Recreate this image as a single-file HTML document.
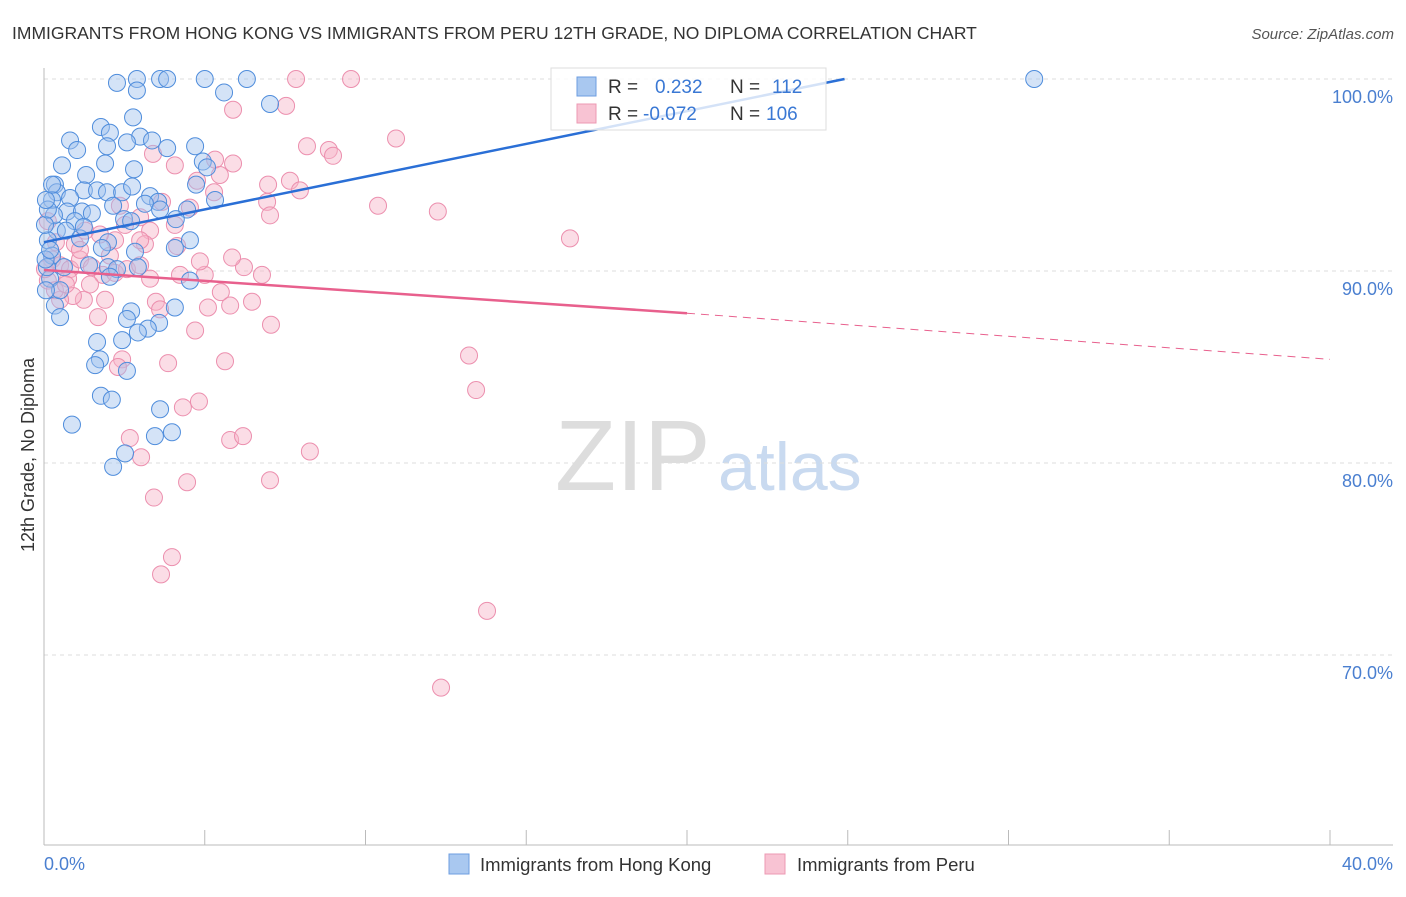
<!DOCTYPE html>
<html><head><meta charset="utf-8">
<style>
body{margin:0;background:#fff;font-family:"Liberation Sans",sans-serif;}
svg text{font-family:"Liberation Sans",sans-serif;}
</style></head>
<body>
<svg width="1406" height="892" viewBox="0 0 1406 892" xmlns="http://www.w3.org/2000/svg">
<text x="12" y="39" font-size="17.5" fill="#333">IMMIGRANTS FROM HONG KONG VS IMMIGRANTS FROM PERU 12TH GRADE, NO DIPLOMA CORRELATION CHART</text>
<text x="1394" y="39" font-size="15" fill="#555" font-style="italic" text-anchor="end">Source: ZipAtlas.com</text>
<text transform="translate(34,455) rotate(-90)" font-size="18" fill="#333" text-anchor="middle">12th Grade, No Diploma</text>
<g>
<text x="555" y="490" font-size="100" font-family="Liberation Serif" fill="#ddd">ZIP</text>
<text x="718" y="490" font-size="68" fill="#c9daf0">atlas</text>
</g>
<g id="grid"></g>
<g id="axes"></g>
<g id="marks"></g>
<g id="trend"></g>
<g>
<rect x="551" y="68" width="275" height="62" fill="#fff" fill-opacity="0.8" stroke="#ddd"/>
<rect x="577" y="77" width="19" height="19" fill="#a9c8f0" stroke="#6d9ee0"/>
<rect x="577" y="104" width="19" height="19" fill="#f8c3d3" stroke="#ec9ab3"/>
<text x="608" y="93" font-size="19" fill="#333">R =</text><text x="655" y="93" font-size="19" fill="#3a78d4">0.232</text>
<text x="730" y="93" font-size="19" fill="#333">N =</text><text x="772" y="93" font-size="19" fill="#3a78d4">112</text>
<text x="608" y="120" font-size="19" fill="#333">R =</text><text x="643" y="120" font-size="19" fill="#3a78d4">-0.072</text>
<text x="730" y="120" font-size="19" fill="#333">N =</text><text x="766" y="120" font-size="19" fill="#3a78d4">106</text>
</g>
<g>
<rect x="449" y="854" width="20" height="20" fill="#a9c8f0" stroke="#6d9ee0"/>
<text x="480" y="871" font-size="18.5" fill="#333">Immigrants from Hong Kong</text>
<rect x="765" y="854" width="20" height="20" fill="#f8c3d3" stroke="#ec9ab3"/>
<text x="797" y="871" font-size="18.5" fill="#333">Immigrants from Peru</text>
</g>
</svg>
<script>
const yTicks=[100,90,80,70];
const yTickLabels=["100.0%","90.0%","80.0%","70.0%"];
const xTicks=[0,5,10,15,20,25,30,35,40];
const hkX=[2.27,2.89,3.61,3.83,5.0,6.31,2.89,5.6,30.8,7.03,2.77,1.77,2.05,0.81,2.99,3.36,1.03,1.96,2.58,3.83,4.7,0.56,1.9,4.94,5.07,2.8,0.34,1.31,4.73,0.4,1.24,1.65,1.96,2.43,2.74,3.3,3.55,4.45,4.1,0.25,0.81,2.15,3.14,3.61,5.32,0.72,1.18,1.49,2.49,2.71,0.96,0.4,0.68,0.31,0.12,1.12,1.99,1.8,4.54,4.07,2.83,2.92,1.4,0.62,0.25,1.99,2.27,0.19,0.09,0.34,0.5,2.71,2.58,3.58,3.23,4.07,4.54,2.92,2.43,1.65,1.74,1.59,2.58,1.77,2.11,3.61,0.87,3.98,3.45,2.52,2.15,0.5,0.06,0.05,0.19,0.03,2.05,0.12,0.06,0.25,1.24];
const hkY=[99.8,100,100,100,100,100,99.4,99.3,100,98.7,98.0,97.5,97.2,96.8,97.0,96.8,96.3,96.5,96.7,96.4,96.5,95.5,95.6,95.7,95.4,95.3,94.5,95.0,94.5,94.1,94.2,94.2,94.1,94.1,94.4,93.9,93.6,93.2,92.7,93.7,93.8,93.4,93.5,93.2,93.7,93.1,93.1,93.0,92.7,92.6,92.6,92.1,92.1,92.9,91.6,91.7,91.5,91.2,91.6,91.2,91.0,90.2,90.3,90.2,90.8,90.2,90.1,89.6,90.2,88.2,87.6,87.9,87.5,87.3,87.0,88.1,89.5,86.8,86.4,86.3,85.4,85.1,84.8,83.5,83.3,82.8,82.0,81.6,81.4,80.5,79.8,89.0,89.0,90.6,91.1,92.4,89.7,93.2,93.7,94.5,92.3];
const peX=[7.84,9.55,5.88,7.53,10.95,8.18,8.86,8.99,12.25,16.36,3.39,4.07,4.76,5.32,5.88,6.97,7.65,7.96,6.94,7.03,10.39,3.67,4.54,4.07,5.29,5.47,2.36,2.52,2.99,3.3,4.14,3.14,2.21,1.74,1.28,0.96,0.37,0.12,0.25,0.5,0.81,1.12,1.49,1.83,2.21,2.58,2.99,3.3,4.23,5.0,6.22,6.78,5.85,4.85,5.5,6.47,5.1,3.48,3.61,4.7,7.06,5.79,1.24,1.68,0.9,0.75,0.5,0.12,0.03,2.43,2.3,3.86,5.63,13.22,13.44,4.32,4.82,2.67,5.79,6.19,3.02,8.27,3.42,4.45,7.03,3.98,3.64,13.78,12.35,1.43,0.34,2.99,1.9,0.68,1.12,2.05];
const peY=[100,100,98.4,98.6,96.9,96.5,96.3,96.0,93.1,91.7,96.1,95.5,94.7,95.8,95.6,94.5,94.7,94.2,93.6,92.9,93.4,93.6,93.3,92.4,94.1,95.0,93.4,92.4,92.8,92.1,91.3,91.4,91.6,91.9,92.1,91.4,91.5,92.6,90.6,90.3,90.1,90.6,90.2,89.8,89.9,90.1,90.3,89.6,89.8,89.8,90.2,89.8,90.7,90.5,88.9,88.4,88.1,88.4,88.0,86.9,87.2,88.2,88.5,87.6,88.7,89.6,88.5,89.5,90.1,85.4,85.0,85.2,85.3,85.6,83.8,82.9,83.2,81.3,81.2,81.4,80.3,80.6,78.2,79.0,79.1,75.1,74.2,72.3,68.3,89.3,89.0,91.6,88.5,89.3,91.1,90.8];
const hkTrend=[0,91.5,24.9,100];
const peTrend=[0,90.05,20,87.8,40,85.4];
const NS="http://www.w3.org/2000/svg";
const X0=44,X1=1330,Y100=79,PXY=19.2;
function sx(v){return X0+(v/40)*(X1-X0);}
function sy(v){return Y100+(100-v)*PXY;}
function mk(tag,attrs,parent){const e=document.createElementNS(NS,tag);for(const k in attrs)e.setAttribute(k,attrs[k]);document.getElementById(parent).appendChild(e);return e;}
yTicks.forEach((t,i)=>{
 const g=mk('line',{x1:44,x2:1393,y1:sy(t),y2:sy(t),stroke:'#ddd','stroke-dasharray':'4,4'},'grid');
 
 
 const tx=mk('text',{x:1393,y:sy(t)+24,'font-size':18,fill:'#4a7fd0','text-anchor':'end'},'grid');
 tx.textContent=yTickLabels[i];
 
 
});
const ax=mk('line',{x1:44,x2:44,y1:68,y2:845,stroke:'#bbb'},'axes');


const bx=mk('line',{x1:44,x2:1393,y1:845,y2:845,stroke:'#bbb'},'axes');


xTicks.forEach(t=>{
 const l=mk('line',{x1:sx(t),x2:sx(t),y1:830,y2:845,stroke:'#bbb'},'axes');
 
 
});
const xl0=mk('text',{x:44,y:870,'font-size':18,fill:'#4a7fd0'},'axes');xl0.textContent='0.0%';


const xl1=mk('text',{x:1393,y:870,'font-size':18,fill:'#4a7fd0','text-anchor':'end'},'axes');xl1.textContent='40.0%';


peX.forEach((x,i)=>{
 const c=mk('circle',{cx:sx(x),cy:sy(peY[i]),r:8.5,fill:'#f6b3c8','fill-opacity':0.45,stroke:'#ec8fae','stroke-width':1},'marks');
 
 
});
hkX.forEach((x,i)=>{
 const c=mk('circle',{cx:sx(x),cy:sy(hkY[i]),r:8.5,fill:'#9fc2ee','fill-opacity':0.45,stroke:'#4f8ddc','stroke-width':1},'marks');
 
 
});
const hl=mk('line',{x1:sx(hkTrend[0]),y1:sy(hkTrend[1]),x2:sx(hkTrend[2]),y2:sy(hkTrend[3]),stroke:'#2a6fd6','stroke-width':2.5},'trend');


const pl=mk('line',{x1:sx(peTrend[0]),y1:sy(peTrend[1]),x2:sx(peTrend[2]),y2:sy(peTrend[3]),stroke:'#e8608d','stroke-width':2.5},'trend');


const pd=mk('line',{x1:sx(peTrend[2]),y1:sy(peTrend[3]),x2:sx(peTrend[4]),y2:sy(peTrend[5]),stroke:'#e8608d','stroke-width':1,'stroke-dasharray':'8,6'},'trend');


</script>
</body></html>
